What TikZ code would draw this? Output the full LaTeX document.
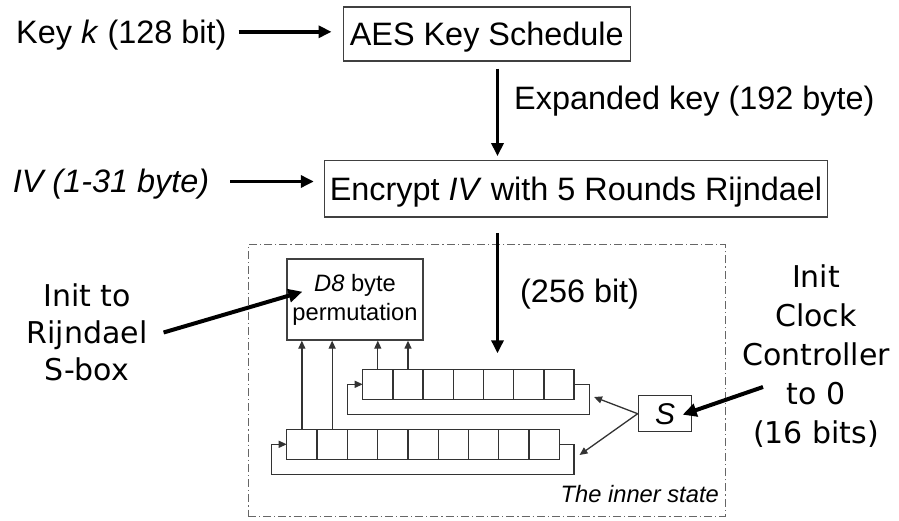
\documentclass[tikz,border=0pt]{standalone}
\usepackage{fontspec}
\setmainfont{Liberation Sans}
\newfontfamily\comicfont{DejaVu Sans}
\usetikzlibrary{arrows.meta}
\begin{document}
\begin{tikzpicture}[x=1pt,y=-1pt,
  big/.style={font=\fontsize{32.4}{38}\selectfont, inner sep=0pt, text height=23pt, text depth=0pt},
  small/.style={font=\fontsize{23.7}{29}\selectfont},
  comic/.style={font=\comicfont\fontsize{30}{37}\selectfont, align=center, inner sep=0pt},
  mainbox/.style={draw=black!75, line width=1.4pt, inner sep=0pt},
  bigarrow/.style={line width=3.5pt, -{Triangle[length=13pt,width=12pt]}},
  reg/.style={line width=1.3pt, draw=black!80, -{Triangle[length=8pt,width=7pt]}},
  cell/.style={draw=black!80, line width=1.3pt, minimum width=30.2pt, minimum height=30pt, inner sep=0pt, outer sep=0pt},
  dashdotbox/.style={draw=black!60, line width=1pt, dash pattern=on 8pt off 3pt on 1.2pt off 3pt},
]
\useasboundingbox (0,0) rectangle (899,521);

% inner state frame
\node[dashdotbox, minimum width=477pt, minimum height=271pt, inner sep=0pt] (inner) at (486.5,380.5) {};

% top part
\node[big, anchor=base west] (key) at (16,43.3) {Key \textit{k} (128 bit)};
\node[mainbox, big, minimum width=287pt, minimum height=54pt] (aes) at (486.7,34) {AES Key Schedule};
\node[big, anchor=base west] (exp) at (514,110) {Expanded key (192 byte)};
\node[big, anchor=base west] (iv) at (12.7,193) {\textit{IV (1-31 byte)}};
\node[mainbox, big, minimum width=503pt, minimum height=56.4pt] (enc) at (576,189) {Encrypt \textit{IV} with 5 Rounds Rijndael};

\coordinate (v1) at (497.5,0);
\draw[bigarrow, shorten >=11pt] ([xshift=12pt]key.east) -- (key.east -| aes.west);
\draw[bigarrow, shorten >=10pt] ([xshift=21pt]iv.east) -- (iv.east -| enc.west);
\draw[bigarrow, shorten <=7pt, shorten >=4pt] (aes.south -| v1) -- (enc.north -| v1);

% D8 box
\node[mainbox, small, line width=1.3pt, align=center, minimum width=136pt, minimum height=81pt] (d8) at (355,299.5) {\textit{D8} byte\\permutation};
\node[big, anchor=base west] (bits) at (520,302) {(256 bit)};

% registers
\foreach \i in {1,...,7} {
  \node[cell] (u\i) at ({347.6+30.2*\i},384.3) {};
}
\foreach \i in {1,...,9} {
  \node[cell, minimum width=30.3pt] (l\i) at ({271.55+30.3*\i},444.3) {};
}
\draw[bigarrow, shorten <=15pt, shorten >=16pt] (enc.south -| v1) -- (v1 |- u5.north);

\draw[reg] (u1.north) -- (u1.north |- d8.south);
\draw[reg] (u2.north) -- (u2.north |- d8.south);
\draw[reg] (l1.north) -- (l1.north |- d8.south);
\draw[reg] (l2.north) -- (l2.north |- d8.south);

\draw[reg] (u7.east) -- ++(15.3,0) -- ++(0,30) -| ([xshift=-15.4pt]u1.west) -- (u1.west);
\draw[reg] (l9.east) -- ++(14.7,0) -- ++(0,30) -| ([xshift=-15pt]l1.west) -- (l1.west);

% S box
\node[draw=black!80, line width=1.3pt, minimum width=53.4pt, minimum height=36pt, inner sep=0pt, font=\fontsize{30}{36}\selectfont\itshape] (S) at (665,413.7) {S};
\coordinate (ut) at (594,397);
\coordinate (lt) at (579.5,455);
\draw[reg] (S.west) -- (ut);
\draw[reg] (S.west) -- (lt);

\node[font=\fontsize{23.7}{29}\selectfont\itshape, anchor=base east, inner sep=0pt] (inn) at (719,502) {The inner state};

% comic annotations
\node[comic] (lc) at (87,332.5) {Init to\\Rijndael\\S-box};
\node[comic, font=\comicfont\fontsize{30}{39}\selectfont] (rc) at (816,356.5) {Init\\Clock\\Controller\\to 0\\(16 bits)};
\coordinate (rcs) at (763,387);
\draw[line width=4pt, -{Triangle[length=14pt,width=13pt]}] ([xshift=16pt]lc.east) -- ([xshift=16pt,yshift=7.8pt]d8.west);
\draw[line width=4pt, -{Triangle[length=14pt,width=13pt]}] (rcs) -- ([xshift=-9.7pt,yshift=-1pt]S.east);
\end{tikzpicture}
\end{document}
